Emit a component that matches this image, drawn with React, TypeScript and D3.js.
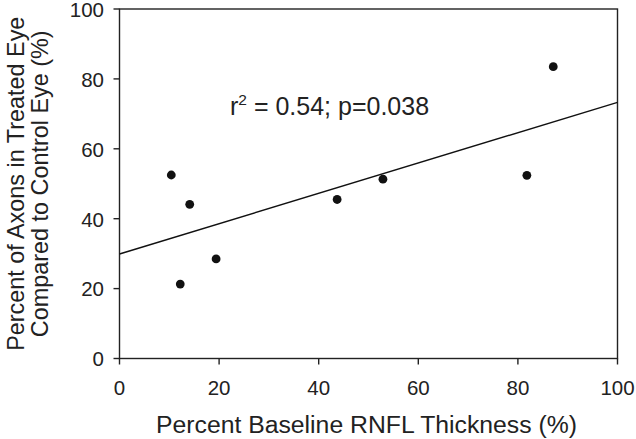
import React from "react";
import * as d3 from "d3";

const xValues = [10.4, 12.2, 14.1, 19.4, 43.7, 52.9, 81.8, 87.1];
const yValues = [52.5, 21.3, 44.1, 28.5, 45.5, 51.3, 52.4, 83.5];
const xTicks = [0, 20, 40, 60, 80, 100];
const yTicks = [0, 20, 40, 60, 80, 100];
const fitIntercept = 29.9;
const fitSlope = 0.434;
const xTitle = "Percent Baseline RNFL Thickness (%)";
const yTitleLines = ["Percent of Axons in Treated Eye", "Compared to Control Eye (%)"];

const W = 636;
const H = 439;
const M = { left: 119.5, right: 617.5, top: 9, bottom: 358.5 };
const FONT = "'Liberation Sans', Arial, sans-serif";

export default function App() {
  const x = d3.scaleLinear().domain([0, 100]).range([M.left, M.right]);
  const y = d3.scaleLinear().domain([0, 100]).range([M.bottom, M.top]);
  const fit = d3
    .line<number>()
    .x((d) => x(d))
    .y((d) => y(fitIntercept + fitSlope * d));
  const color = "#222";
  return (
    <svg
      width={W}
      height={H}
      style={{ position: "absolute", left: 0, top: 0, background: "#fff" }}
      fontFamily={FONT}
    >
      <rect x={0} y={0} width={W} height={H} fill="#fff" />
      {/* frame */}
      <rect
        x={M.left}
        y={M.top}
        width={M.right - M.left}
        height={M.bottom - M.top}
        fill="none"
        stroke={color}
        strokeWidth={1.4}
      />
      {/* x ticks */}
      {xTicks.map((t) => (
        <g key={"x" + t}>
          <line x1={x(t)} x2={x(t)} y1={M.bottom} y2={M.bottom + 6} stroke={color} strokeWidth={1.4} />
          <text x={x(t)} y={395} textAnchor="middle" fontSize={20.5} fill={color}>
            {t}
          </text>
        </g>
      ))}
      {/* y ticks */}
      {yTicks.map((t) => (
        <g key={"y" + t}>
          <line x1={M.left - 6} x2={M.left} y1={y(t)} y2={y(t)} stroke={color} strokeWidth={1.4} />
          <text x={104} y={y(t) + 7.8} textAnchor="end" fontSize={20.5} fill={color}>
            {t}
          </text>
        </g>
      ))}
      {/* regression line */}
      <path d={fit([0, 100]) || ""} fill="none" stroke="#111" strokeWidth={1.4} />
      {/* points */}
      {xValues.map((v, i) => (
        <circle key={i} cx={x(v)} cy={y(yValues[i])} r={4.4} fill="#111" />
      ))}
      {/* annotation */}
      <text x={230} y={115} fontSize={25} fill={color}>
        r
        <tspan fontSize={15.5} dy={-10.5}>2</tspan>
        <tspan dy={10.5}> = 0.54; p=0.038</tspan>
      </text>
      {/* x title */}
      <text
        x={(M.left + M.right) / 2 - 2}
        y={433}
        textAnchor="middle"
        fontSize={23}
        textLength={421}
        lengthAdjust="spacingAndGlyphs"
        fill={color}
      >
        {xTitle}
      </text>
      {/* y title */}
      {yTitleLines.map((s, i) => (
        <text
          key={i}
          transform={`translate(${24 + i * 24},${(M.top + M.bottom) / 2}) rotate(-90)`}
          textAnchor="middle"
          fontSize={23.4}
          fill={color}
        >
          {s}
        </text>
      ))}
    </svg>
  );
}
